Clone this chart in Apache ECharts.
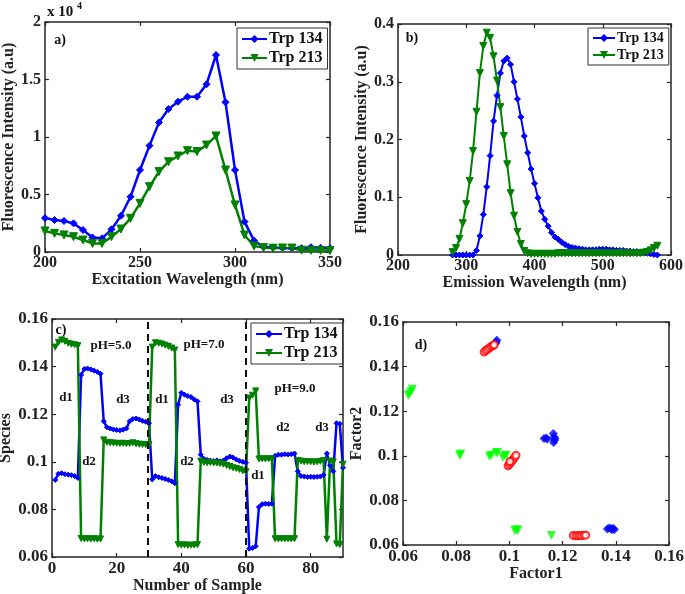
<!DOCTYPE html>
<html><head><meta charset="utf-8">
<script src="https://cdn.jsdelivr.net/npm/echarts@6/dist/echarts.min.js"></script>
<style>html,body{margin:0;padding:0;background:#fff}#c{width:685px;height:594px}</style>
</head><body><div id="c"></div>
<script>
// ---------- Panel a: excitation ----------
const exWave = [200,205,210,215,220,225,230,235,240,245,250,255,260,265,270,275,280,285,290,295,300,305,310,315,320,325,330,335,340,345,350];
const exTrp134 = [2950,2780,2700,2490,1910,1270,1190,1970,3150,4800,7130,9250,11270,12430,13070,13500,13500,14580,17130,13020,7130,2640,990,460,400,350,330,330,420,360,330];
const exTrp213 = [1830,1620,1480,1330,1040,750,750,1330,2000,2930,4230,5680,6990,7850,8350,8810,8730,9300,10090,7130,4090,1480,520,380,330,350,340,160,150,140,130];
// ---------- Panel b: emission ----------
const emWave = [280,285,290,295,300,305,310,315,320,325,330,335,340,345,350,355,360,365,370,375,380,385,390,395,400,405,410,415,420,425,430,435,440,445,450,455,460,465,470,475,480,485,490,495,500,505,510,515,520,525,530,535,540,545,550,555,560,565,570,575,580];
const emTrp134 = [0,0,0,0,0,0,0,0.008,0.033,0.070,0.118,0.172,0.232,0.276,0.315,0.336,0.341,0.330,0.300,0.270,0.239,0.206,0.177,0.149,0.124,0.099,0.076,0.062,0.050,0.039,0.031,0.027,0.022,0.018,0.015,0.013,0.012,0.011,0.010,0.009,0.009,0.009,0.009,0.010,0.010,0.010,0.009,0.009,0.008,0.008,0.008,0.007,0.007,0.006,0.006,0.005,0.004,0.003,0.002,0.001,0.000];
const emTrp213 = [0.005,0.012,0.028,0.055,0.088,0.128,0.180,0.248,0.315,0.362,0.385,0.376,0.344,0.302,0.256,0.206,0.157,0.107,0.068,0.040,0.019,0.007,0.003,0.002,0.002,0.002,0.002,0.002,0.002,0.002,0.002,0.003,0.003,0.003,0.003,0.003,0.003,0.003,0.003,0.003,0.003,0.003,0.003,0.003,0.003,0.003,0.003,0.003,0.003,0.003,0.003,0.003,0.003,0.003,0.003,0.003,0.004,0.005,0.008,0.012,0.016];
// ---------- Panel c: species ----------
const samples = [1,2,3,4,5,6,7,8,9,10,11,12,13,14,15,16,17,18,19,20,21,22,23,24,25,26,27,28,29,30,31,32,33,34,35,36,37,38,39,40,41,42,43,44,45,46,47,48,49,50,51,52,53,54,55,56,57,58,59,60,61,62,63,64,65,66,67,68,69,70,71,72,73,74,75,76,77,78,79,80,81,82,83,84,85,86,87,88,89,90];
const spTrp134 = [0.0924,0.0950,0.0952,0.0948,0.0946,0.0944,0.0940,0.0932,
0.1365,0.1390,0.1392,0.1388,0.1383,0.1378,0.1370,
0.1170,0.1145,0.1140,0.1136,0.1134,0.1132,0.1135,0.1140,0.1170,0.1180,0.1182,0.1178,0.1172,0.1168,0.1162,
0.0926,0.0940,0.0935,0.0932,0.0928,0.0924,0.0918,0.0910,
0.1240,0.1290,0.1282,0.1276,0.1272,0.1262,0.1254,
0.1030,0.1012,0.1008,0.1005,0.1003,0.1006,0.1002,0.1005,0.1015,0.1022,0.1018,0.1010,0.1004,0.1000,0.0996,
0.0635,0.0638,0.0645,
0.0810,0.0822,0.0824,0.0823,0.0824,
0.1025,0.1030,0.1030,0.1032,0.1031,0.1032,0.1035,
0.0960,0.0940,0.0938,0.0936,0.0937,0.0936,0.0937,0.0938,0.0945,0.1035,0.0985,0.0960,0.1162,0.1160,0.0975];
const spTrp213 = [0.1482,0.1502,0.1512,0.1506,0.1498,0.1494,0.1492,0.1488,
0.0678,0.0676,0.0677,0.0676,0.0677,0.0675,0.0676,
0.1092,0.1082,0.1080,0.1079,0.1078,0.1077,0.1078,0.1076,0.1077,0.1080,0.1076,0.1074,0.1073,0.1072,0.1072,
0.1482,0.1500,0.1498,0.1495,0.1490,0.1485,0.1478,0.1470,
0.0652,0.0650,0.0651,0.0649,0.0650,0.0650,0.0652,
0.1003,0.0998,0.0996,0.0997,0.0995,0.0995,0.0993,0.0990,0.0985,0.0980,0.0975,0.0972,0.0968,0.0962,0.0958,
0.1268,0.1280,0.1298,
0.1012,0.1013,0.1012,0.1013,0.1012,
0.0677,0.0676,0.0677,0.0676,0.0677,0.0676,0.0677,
0.1005,0.1003,0.1000,0.1001,0.1000,0.0999,0.1000,0.1002,0.1005,0.0675,0.1003,0.1000,0.0655,0.0652,0.0990];
const phDividers = [29.5, 60];
// ---------- Panel d: factor scatter ----------
const dBlueF1 = [0.0945,0.0950,0.0953,0.0948,0.1130,0.1138,0.1142,0.1165,0.1168,0.1170,0.1166,0.1172,0.1368,0.1375,0.1382,0.1390,0.1395,0.1386];
const dBlueF2 = [0.1500,0.1510,0.1518,0.1505,0.1078,0.1080,0.1075,0.1100,0.1085,0.1070,0.1060,0.1078,0.0672,0.0676,0.0674,0.0675,0.0670,0.0668];
const dRedF1 = [0.0905,0.0912,0.0918,0.0925,0.0932,0.0938,0.0943,0.0995,0.1000,0.1005,0.1010,0.1015,0.1020,0.1025,0.1002,0.1240,0.1250,0.1258,0.1265,0.1272,0.1280,0.1287];
const dRedF2 = [0.1465,0.1472,0.1478,0.1484,0.1490,0.1494,0.1498,0.0955,0.0962,0.0970,0.0978,0.0985,0.0995,0.1002,0.0975,0.0643,0.0642,0.0641,0.0643,0.0642,0.0644,0.0644];
const dGreenF1 = [0.0620,0.0625,0.0630,0.0635,0.0813,0.0817,0.0925,0.0932,0.0950,0.0955,0.0975,0.0982,0.0988,0.1020,0.1027,0.1032,0.1158];
const dGreenF2 = [0.1270,0.1278,0.1288,0.1298,0.1003,0.1008,0.0998,0.1003,0.1012,0.1015,0.0993,0.1000,0.1003,0.0665,0.0668,0.0666,0.0643];

const FONT = '"Liberation Serif","Times New Roman",serif';
const AX = '#262626';
const BLUE = '#0000ff', GREEN = '#008000';

function pairs(xs, ys){ return xs.map((x,i)=>[x, ys[i]]); }

function axisBase(g, min, max, interval, pos){
  return {type:'value', gridIndex:g, min, max, interval, position:pos,
    axisLine:{show:true, onZero:false, lineStyle:{color:AX, width:1.5}},
    axisTick:{show:true, inside:true, length:4, lineStyle:{color:AX, width:1.2}},
    splitLine:{show:false}};
}
function mainX(g,min,max,interval,name,gap,fs,extra){
  return Object.assign(axisBase(g,min,max,interval,'bottom'), {
    name, nameLocation:'middle', nameGap:gap,
    nameTextStyle:{fontFamily:FONT, fontWeight:'bold', fontSize:16, color:'#222'},
    axisLabel:Object.assign({fontFamily:FONT, fontWeight:'bold', fontSize:fs, color:'#222', margin:3, showMaxLabel:true}, extra||{})
  });
}
function mainY(g,min,max,interval,name,gap,fs,extra){
  return Object.assign(axisBase(g,min,max,interval,'left'), {
    name, nameLocation:'middle', nameGap:gap, nameRotate:90,
    nameTextStyle:{fontFamily:FONT, fontWeight:'bold', fontSize:16, color:'#222'},
    axisLabel:Object.assign({fontFamily:FONT, fontWeight:'bold', fontSize:fs, color:'#222', margin:4}, extra||{})
  });
}
function mirror(g,min,max,interval,pos){
  return Object.assign(axisBase(g,min,max,interval,pos), {axisLabel:{show:false}});
}

const lineSeries = (name, xi, yi, data, color, sym, size, width, rot) => ({
  name, type:'line', xAxisIndex:xi, yAxisIndex:yi, data, symbol:sym, symbolSize:size,
  symbolRotate:rot||0, showAllSymbol:true, animation:false,
  lineStyle:{color, width}, itemStyle:{color, borderColor:color}
});

const legendBase = (left, top, fs, iw) => ({
  data:['Trp 134','Trp 213'], orient:'vertical', left, top,
  backgroundColor:'#fff', borderColor:'#333', borderWidth:1, padding:[3,5,3,4],
  itemGap:3, itemWidth:iw, itemHeight:10, selectedMode:false,
  textStyle:{fontFamily:FONT, fontWeight:'bold', fontSize:fs, color:'#111', padding:[0,0,0,-3]}
});

const txt = (x,y,t,fs,align) => ({type:'text', x, y, style:{text:t, fontFamily:FONT, fontWeight:'bold', fontSize:fs||13, fill:'#111', textAlign:align||'center', textVerticalAlign:'middle'}});

const option = {
  backgroundColor:'#fff',
  animation:false,
  grid:[
    {left:45, top:22, width:285, height:230, outerBoundsMode:'none'},
    {left:398, top:24, width:273, height:231, outerBoundsMode:'none'},
    {left:52, top:319, width:291, height:238, outerBoundsMode:'none'},
    {left:403, top:322, width:266, height:223, outerBoundsMode:'none'}
  ],
  xAxis:[
    mainX(0,200,350,50,'Excitation Wavelength (nm)',17,16),
    mainX(1,200,600,100,'Emission Wavelength (nm)',13,16),
    mainX(2,0,90,20,'Number of Sample',16,17,{showMaxLabel:false}),
    mainX(3,0.06,0.16,0.02,'Factor1',13,17),
    mirror(0,200,350,50,'top'),
    mirror(1,200,600,100,'top'),
    mirror(2,0,90,20,'top'),
    mirror(3,0.06,0.16,0.02,'top')
  ],
  yAxis:[
    mainY(0,0,20000,5000,'Fluorescence Intensity (a.u)',26,16,{formatter:v=>String(v/10000)}),
    mainY(1,0,0.4,0.1,'Fluorescence Intensity (a.u)',22,16),
    mainY(2,0.06,0.16,0.02,'Species',37,17),
    mainY(3,0.06,0.16,0.02,'Factor2',33,17),
    mirror(0,0,20000,5000,'right'),
    mirror(1,0,0.4,0.1,'right'),
    mirror(2,0.06,0.16,0.02,'right'),
    mirror(3,0.06,0.16,0.02,'right')
  ],
  legend:[
    legendBase(237,28,16,25),
    legendBase(588,28,14,22),
    legendBase(251,323,16,26)
  ],
  series:[
    lineSeries('Trp 134',0,0,pairs(exWave,exTrp134),BLUE,'diamond',7,2.5),
    lineSeries('Trp 213',0,0,pairs(exWave,exTrp213),GREEN,'triangle',8,2.5,180),
    lineSeries('Trp 134',1,1,pairs(emWave,emTrp134),BLUE,'diamond',6,2),
    lineSeries('Trp 213',1,1,pairs(emWave,emTrp213),GREEN,'triangle',7,2,180),
    Object.assign(lineSeries('Trp 134',2,2,pairs(samples,spTrp134),BLUE,'diamond',5,2.5), {
      markLine:{silent:true, symbol:'none', label:{show:false},
        lineStyle:{color:'#111', type:[7,5], width:2}, data:phDividers.map(v=>({xAxis:v}))}
    }),
    lineSeries('Trp 213',2,2,pairs(samples,spTrp213),GREEN,'triangle',6,2.5,180),
    {name:'d134', type:'scatter', xAxisIndex:3, yAxisIndex:3, data:pairs(dBlueF1,dBlueF2), symbol:'diamond', symbolSize:9, itemStyle:{color:BLUE}},
    {name:'dred', type:'scatter', xAxisIndex:3, yAxisIndex:3, data:pairs(dRedF1,dRedF2), symbol:'emptyCircle', symbolSize:7, itemStyle:{color:'#ff0000', borderColor:'#ff0000', borderWidth:2}},
    {name:'d213', type:'scatter', xAxisIndex:3, yAxisIndex:3, data:pairs(dGreenF1,dGreenF2), symbol:'triangle', symbolRotate:180, symbolSize:9, itemStyle:{color:'#00ff00'}}
  ],
  graphic:[
    txt(47,12,'x 10',15,'left'),
    txt(77,6,'4',10,'left'),
    txt(60,40,'a)',14),
    txt(412,38,'b)',14),
    txt(61,330,'c)',14),
    txt(421,345,'d)',14),
    txt(111,346,'pH=5.0',13),
    txt(204,345,'pH=7.0',13),
    txt(295,389,'pH=9.0',13),
    txt(66,398,'d1',13),
    txt(123,400,'d3',13),
    txt(162,400,'d1',13),
    txt(227,400,'d3',13),
    txt(89,462,'d2',13),
    txt(187,462,'d2',13),
    txt(258,476,'d1',13),
    txt(283,428,'d2',13),
    txt(322,428,'d3',13)
  ]
};
const chart = echarts.init(document.getElementById('c'), null, {renderer:'canvas'});
chart.setOption(option);
</script>
</body></html>
